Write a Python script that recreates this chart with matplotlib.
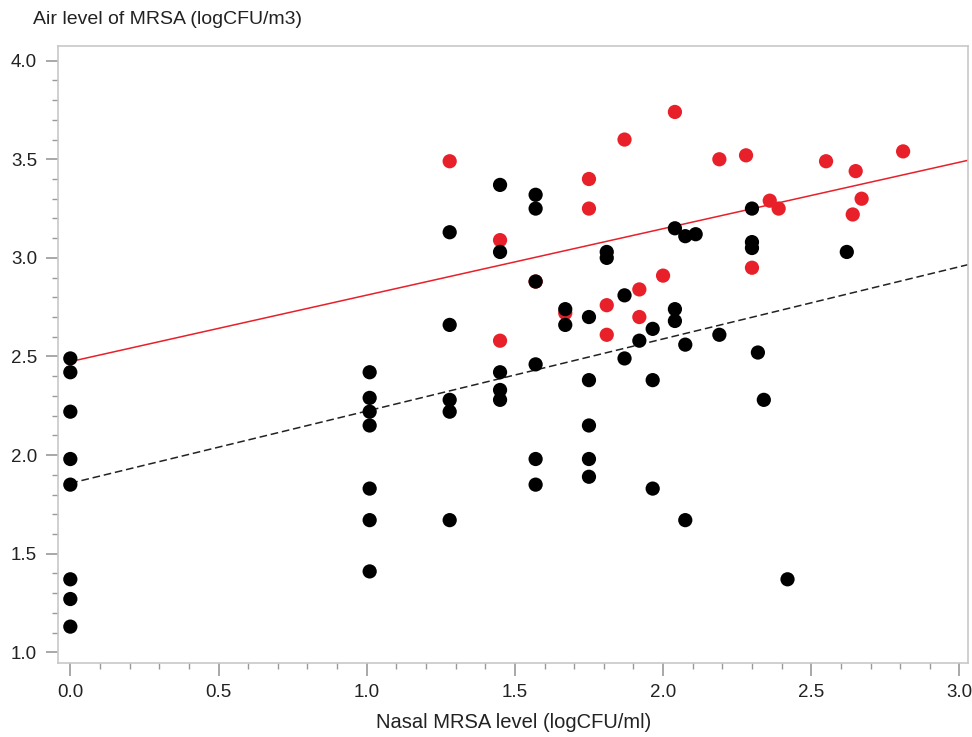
import matplotlib
matplotlib.use("Agg")
import matplotlib.pyplot as plt
import numpy as np
from matplotlib.ticker import MultipleLocator, FormatStrFormatter

plt.rcParams['font.family'] = ['Liberation Sans', 'DejaVu Sans']

# Black group (nasal MRSA level, air level)
black_x = [0, 0, 0, 0, 0, 0, 0, 0,
           1.01, 1.01, 1.01, 1.01, 1.01, 1.01, 1.01,
           1.28, 1.28, 1.28, 1.28, 1.28,
           1.45, 1.45, 1.45, 1.45, 1.45,
           1.57, 1.57, 1.57, 1.57, 1.57, 1.57,
           1.67, 1.67,
           1.75, 1.75, 1.75, 1.75, 1.75,
           1.81, 1.81,
           1.87, 1.87,
           1.92,
           1.965, 1.965, 1.965,
           2.04, 2.04, 2.04,
           2.075, 2.075, 2.075,
           2.11,
           2.19,
           2.30, 2.30, 2.30,
           2.32, 2.34, 2.42, 2.62]
black_y = [2.49, 2.42, 2.22, 1.98, 1.85, 1.37, 1.27, 1.13,
           2.42, 2.29, 2.22, 2.15, 1.83, 1.67, 1.41,
           3.13, 2.66, 2.28, 2.22, 1.67,
           3.37, 3.03, 2.42, 2.33, 2.28,
           3.32, 3.25, 2.88, 2.46, 1.98, 1.85,
           2.74, 2.66,
           2.70, 2.38, 2.15, 1.98, 1.89,
           3.03, 3.00,
           2.81, 2.49,
           2.58,
           2.64, 2.38, 1.83,
           3.15, 2.74, 2.68,
           3.11, 2.56, 1.67,
           3.12,
           2.61,
           3.25, 3.08, 3.05,
           2.52, 2.28, 1.37, 3.03]

# Red group
red_x = [1.28, 1.45, 1.45, 1.57, 1.67, 1.75, 1.75, 1.81, 1.81, 1.87,
         1.92, 1.92, 2.00, 2.04, 2.19, 2.28, 2.30, 2.36, 2.39,
         2.55, 2.64, 2.65, 2.67, 2.81]
red_y = [3.49, 3.09, 2.58, 2.88, 2.72, 3.40, 3.25, 2.76, 2.61, 3.60,
         2.84, 2.70, 2.91, 3.74, 3.50, 3.52, 2.95, 3.29, 3.25,
         3.49, 3.22, 3.44, 3.30, 3.54]

# Fitted lines (intercept, slope)
red_fit = (2.474, 0.337)
black_fit = (1.857, 0.366)

x_ticks = [0.0, 0.5, 1.0, 1.5, 2.0, 2.5, 3.0]
y_ticks = [1.0, 1.5, 2.0, 2.5, 3.0, 3.5, 4.0]

fig = plt.figure(figsize=(9.72, 7.37), dpi=100)
ax = fig.add_axes([0.0597, 0.1008, 0.9362, 0.8368])

xmin, xmax = -0.0415, 3.029
ymin, ymax = 0.947, 4.0745
ax.set_xlim(xmin, xmax)
ax.set_ylim(ymin, ymax)

xl = np.array([0.0, xmax])
ax.plot(xl, red_fit[0] + red_fit[1] * xl, color='#e8202a', lw=1.1, zorder=2)
ax.plot(xl, black_fit[0] + black_fit[1] * xl, color='#222222', lw=1.1,
        dashes=(5, 2.5), zorder=2)

ax.scatter(red_x, red_y, s=105, color='#e8202a', edgecolors='none', zorder=3)
ax.scatter(black_x, black_y, s=105, color='black', edgecolors='none', zorder=4)

for sp in ax.spines.values():
    sp.set_color('#c8c8c8')
    sp.set_linewidth(1.2)

ax.set_xticks(x_ticks)
ax.set_yticks(y_ticks)
ax.xaxis.set_major_formatter(FormatStrFormatter('%.1f'))
ax.yaxis.set_major_formatter(FormatStrFormatter('%.1f'))
ax.xaxis.set_minor_locator(MultipleLocator(0.1))
ax.yaxis.set_minor_locator(MultipleLocator(0.1))
ax.tick_params(which='major', length=9, width=1.2, color='#999999',
               labelsize=13.5, labelcolor='#222222', pad=6)
ax.tick_params(which='minor', length=4.5, width=1.0, color='#999999')

fig.text(0.034, 0.973, 'Air level of MRSA (logCFU/m3)', fontsize=14,
         color='#222222', va='center', ha='left')
fig.text(0.528, 0.019, 'Nasal MRSA level (logCFU/ml)', fontsize=14.5,
         color='#222222', va='center', ha='center')

fig.savefig('out.png', dpi=100)
